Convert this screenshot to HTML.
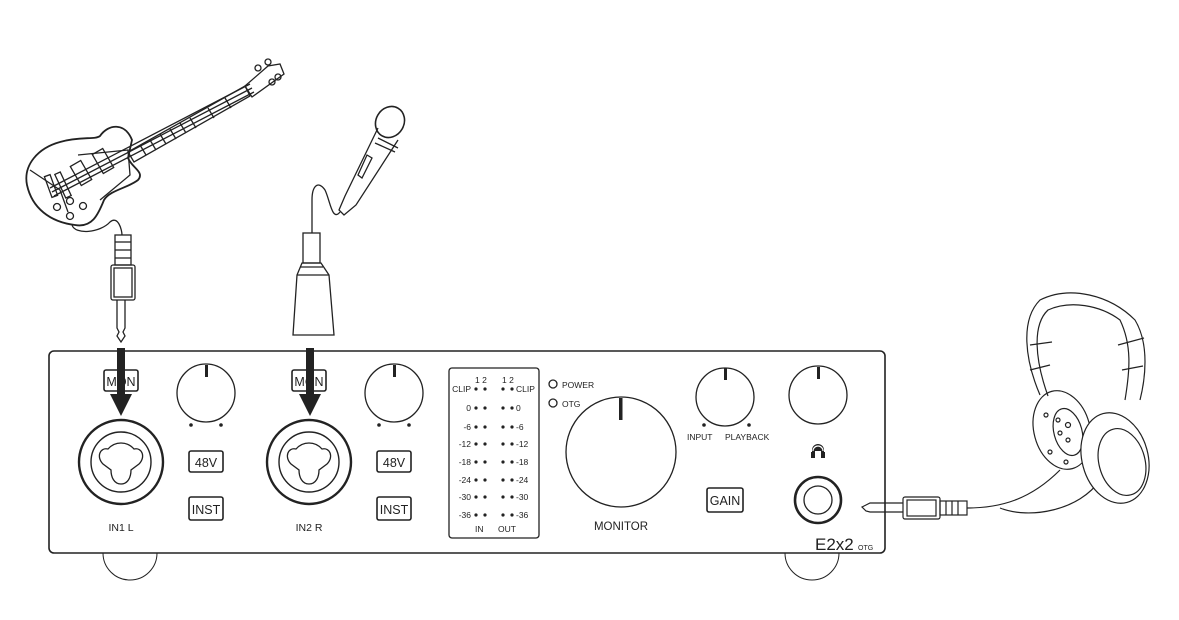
<!DOCTYPE html>
<html><head><meta charset="utf-8"><style>
html,body{margin:0;padding:0;background:#fff;}
svg{display:block;}
text{font-family:"Liberation Sans",Arial,sans-serif;fill:#222;}
</style></head><body>
<svg width="1179" height="620" viewBox="0 0 1179 620" xmlns="http://www.w3.org/2000/svg">
<g fill="none" stroke="#222" stroke-width="1.3">
<!-- Guitar -->
<path d="M60,142 C80,136 95,140 100,136 C108,124 125,122 132,140 L128,158 C132,168 145,172 138,180 C128,188 110,190 104,200 C98,215 92,228 75,225 C50,222 32,208 27,185 C23,165 38,148 60,142 Z" stroke-width="1.8"/>
<path d="M30,170 L60,190 L68,212"/>
<path d="M78,155 L128,150 L130,175 L100,200"/>
<line x1="50" y1="188" x2="250" y2="84"/>
<line x1="52" y1="192" x2="252" y2="88"/>
<line x1="54" y1="196" x2="254" y2="92"/>
<path d="M128,152 L245,86 L250,96 L134,162 Z"/>
<line x1="150" y1="140" x2="156" y2="150"/><line x1="170" y1="129" x2="176" y2="139"/><line x1="190" y1="118" x2="196" y2="128"/><line x1="208" y1="108" x2="214" y2="118"/><line x1="225" y1="98" x2="231" y2="108"/><line x1="140" y1="145" x2="146" y2="155"/><line x1="160" y1="134" x2="166" y2="144"/><line x1="180" y1="123" x2="186" y2="133"/>
<path d="M245,86 L268,66 L280,64 L284,74 L252,97 Z"/>
<circle cx="258" cy="68" r="3"/><circle cx="268" cy="62" r="3"/><circle cx="272" cy="82" r="3"/><circle cx="278" cy="77" r="3"/>
<rect x="97" y="150" width="12" height="22" transform="rotate(-30 103 161)"/>
<rect x="75" y="162" width="12" height="22" transform="rotate(-30 81 173)"/>
<rect x="48" y="175" width="6" height="22" transform="rotate(-20 51 186)"/>
<rect x="60" y="172" width="6" height="26" transform="rotate(-25 63 185)"/>
<circle cx="57" cy="207" r="3.5"/><circle cx="70" cy="216" r="3.5"/><circle cx="70" cy="201" r="3.5"/><circle cx="83" cy="206" r="3.5"/>
<path d="M72,225 C75,235 100,233 110,222 C118,215 122,230 122,235"/>
<!-- guitar jack -->
<rect x="115" y="235" width="16" height="30"/>
<line x1="115" y1="242" x2="131" y2="242"/><line x1="115" y1="250" x2="131" y2="250"/><line x1="115" y1="258" x2="131" y2="258"/>
<rect x="111" y="265" width="24" height="35" rx="2"/>
<rect x="114" y="268" width="18" height="29"/>
<path d="M117,300 L117,328 L119,332 L117,336 L121,342 L125,336 L123,332 L125,328 L125,300"/>
<!-- Mic -->
<path d="M398,140 L356,205 L344,215 L339,210 L345,196 L378,128"/>
<ellipse cx="390" cy="122" rx="14" ry="16" transform="rotate(30 390 122)" stroke-width="1.6"/>
<line x1="378" y1="138" x2="398" y2="148"/><line x1="375" y1="143" x2="395" y2="152"/>
<path d="M367,155 L372,158 L362,178 L358,175 Z"/>
<path d="M340,212 C332,222 330,200 325,190 C318,180 312,186 312,200 L312,233"/>
<!-- XLR plug -->
<rect x="303" y="233" width="17" height="30"/>
<path d="M302,263 L321,263 L329,275 L334,335 L293,335 L297,275 Z"/>
<line x1="300" y1="267" x2="323" y2="267"/><line x1="297" y1="275" x2="329" y2="275"/>
</g>
<!-- Panel -->
<g fill="none" stroke="#222">
<path d="M103,553 A27,27 0 0 0 157,553" stroke-width="1"/>
<path d="M785,553 A27,27 0 0 0 839,553" stroke-width="1"/>
<rect x="49" y="351" width="836" height="202" rx="5" stroke-width="1.6" fill="#fff"/>
<!-- ch1 -->
<rect x="104" y="370" width="34" height="21" rx="2" stroke-width="1.6"/>
<circle cx="121" cy="462" r="42" stroke-width="2.4"/>
<circle cx="121" cy="462" r="30" stroke-width="1.4"/>
<path d="M108,449 C115,441 127,441 134,449 C142,447 146,457 139,464 L131,470 C131,477 128,484 121,484 C114,484 111,477 111,470 L103,464 C96,457 100,447 108,449 Z" stroke-width="1.3"/>
<circle cx="206" cy="393" r="29" stroke-width="1.3"/>
<rect x="189" y="451" width="34" height="21" rx="2" stroke-width="1.6"/>
<rect x="189" y="497" width="34" height="23" rx="2" stroke-width="1.6"/>
<!-- ch2 -->
<rect x="292" y="370" width="34" height="21" rx="2" stroke-width="1.6"/>
<circle cx="309" cy="462" r="42" stroke-width="2.4"/>
<circle cx="309" cy="462" r="30" stroke-width="1.4"/>
<path d="M296,449 C303,441 315,441 322,449 C330,447 334,457 327,464 L319,470 C319,477 316,484 309,484 C302,484 299,477 299,470 L291,464 C284,457 288,447 296,449 Z" stroke-width="1.3"/>
<circle cx="394" cy="393" r="29" stroke-width="1.3"/>
<rect x="377" y="451" width="34" height="21" rx="2" stroke-width="1.6"/>
<rect x="377" y="497" width="34" height="23" rx="2" stroke-width="1.6"/>
<!-- meter -->
<rect x="449" y="368" width="90" height="170" rx="3" stroke-width="1.3"/>
<circle cx="553" cy="384" r="4" stroke-width="1.3"/>
<circle cx="553" cy="403" r="4" stroke-width="1.3"/>
<circle cx="621" cy="452" r="55" stroke-width="1.3"/>
<circle cx="725" cy="397" r="29" stroke-width="1.3"/>
<circle cx="818" cy="395" r="29" stroke-width="1.3"/>
<rect x="707" y="488" width="36" height="24" rx="2" stroke-width="1.6"/>
<circle cx="818" cy="500" r="23" stroke-width="2.6"/>
<circle cx="818" cy="500" r="14" stroke-width="1.3"/>
</g>
<g fill="#222">
<rect x="205" y="365" width="3" height="12"/><rect x="393" y="365" width="3" height="12"/>
<rect x="619" y="398" width="3.5" height="22"/><rect x="724" y="368" width="3" height="12"/><rect x="817" y="367" width="3" height="12"/>
<circle cx="191" cy="425" r="1.8"/><circle cx="221" cy="425" r="1.8"/>
<circle cx="379" cy="425" r="1.8"/><circle cx="409" cy="425" r="1.8"/>
<circle cx="704" cy="425" r="1.8"/><circle cx="749" cy="425" r="1.8"/>
<path d="M812,458 L812,450 A6,6 0 0 1 824,450 L824,458 L821,458 L821,451 L815,451 L815,458Z" />
<rect x="811" y="452" width="4" height="6"/><rect x="821" y="452" width="4" height="6"/>
</g>
<g fill="none" stroke="#fff" stroke-width="1.2"><path d="M813,451 A5,5 0 0 1 823,451"/></g>
<!-- arrows -->
<g fill="#222">
<rect x="117" y="348" width="8" height="48"/><path d="M110,394 L132,394 L121,416 Z"/>
<rect x="306" y="348" width="8" height="48"/><path d="M299,394 L321,394 L310,416 Z"/>
</g>
<!-- text -->
<g font-size="12.5">
<text x="121" y="386" text-anchor="middle">MON</text>
<text x="309" y="386" text-anchor="middle">MON</text>
<text x="206" y="467" text-anchor="middle">48V</text>
<text x="206" y="514" text-anchor="middle">INST</text>
<text x="394" y="467" text-anchor="middle">48V</text>
<text x="394" y="514" text-anchor="middle">INST</text>
<text x="725" y="505" text-anchor="middle">GAIN</text>
</g>
<g font-size="10.5">
<text x="121" y="531" text-anchor="middle">IN1 L</text>
<text x="309" y="531" text-anchor="middle">IN2 R</text>
<text x="621" y="530" text-anchor="middle" font-size="11.5">MONITOR</text>
</g>
<g font-size="8.5">
<text x="562" y="388">POWER</text><text x="562" y="407">OTG</text>
<text x="687" y="440">INPUT</text><text x="725" y="440">PLAYBACK</text>
<text x="475" y="383">1 2</text><text x="502" y="383">1 2</text>
<g text-anchor="end">
<text x="471" y="392">CLIP</text><text x="471" y="411">0</text><text x="471" y="430">-6</text><text x="471" y="447">-12</text><text x="471" y="465">-18</text><text x="471" y="483">-24</text><text x="471" y="500">-30</text><text x="471" y="518">-36</text>
</g>
<text x="516" y="392">CLIP</text><text x="516" y="411">0</text><text x="516" y="430">-6</text><text x="516" y="447">-12</text><text x="516" y="465">-18</text><text x="516" y="483">-24</text><text x="516" y="500">-30</text><text x="516" y="518">-36</text>
<text x="475" y="532">IN</text><text x="498" y="532">OUT</text>
</g>
<g fill="#222">
<g id="d"><circle cx="476" cy="389" r="1.6"/><circle cx="485" cy="389" r="1.6"/><circle cx="503" cy="389" r="1.6"/><circle cx="512" cy="389" r="1.6"/></g>
<use href="#d" y="19"/><use href="#d" y="38"/><use href="#d" y="55"/><use href="#d" y="73"/><use href="#d" y="91"/><use href="#d" y="108"/><use href="#d" y="126"/>
</g>
<text x="815" y="550" font-size="17">E2x2</text><text x="858" y="550" font-size="7">OTG</text>
<!-- headphone plug & headphones -->
<g fill="none" stroke="#222" stroke-width="1.2">
<path d="M903,503 L870,503 L866,505 L862,507 L866,511 L870,512 L903,512"/>
<rect x="903" y="497" width="37" height="22" rx="2"/>
<rect x="907" y="500" width="29" height="16"/>
<rect x="940" y="501" width="27" height="14"/>
<line x1="946" y1="501" x2="946" y2="515"/><line x1="952" y1="501" x2="952" y2="515"/><line x1="958" y1="501" x2="958" y2="515"/>
<path d="M967,508 C1000,508 1030,500 1060,470"/>
<path d="M1000,508 C1030,520 1080,510 1100,480"/>
<path d="M1040,395 C1025,360 1020,320 1040,300 C1070,285 1110,295 1135,320 C1150,345 1145,380 1140,400"/>
<path d="M1048,396 C1035,360 1032,325 1048,310 C1070,300 1100,305 1120,320 C1132,345 1130,370 1125,400"/>
<line x1="1030" y1="345" x2="1052" y2="342"/><line x1="1118" y1="345" x2="1144" y2="338"/>
<line x1="1030" y1="370" x2="1050" y2="365"/><line x1="1122" y1="370" x2="1143" y2="366"/>
<ellipse cx="1062" cy="430" rx="28" ry="40" transform="rotate(-15 1062 430)"/>
<ellipse cx="1068" cy="432" rx="14" ry="24" transform="rotate(-15 1068 432)"/>
<ellipse cx="1115" cy="458" rx="33" ry="46" transform="rotate(-15 1115 458)" fill="#fff"/>
<ellipse cx="1122" cy="462" rx="23" ry="34" transform="rotate(-15 1122 462)"/>
<circle cx="1046" cy="415" r="2"/><circle cx="1058" cy="420" r="2"/><circle cx="1068" cy="425" r="2.5"/><circle cx="1060" cy="433" r="2"/><circle cx="1068" cy="440" r="2"/><circle cx="1050" cy="452" r="2"/><circle cx="1066" cy="462" r="2"/>
</g>
</svg>
</body></html>
